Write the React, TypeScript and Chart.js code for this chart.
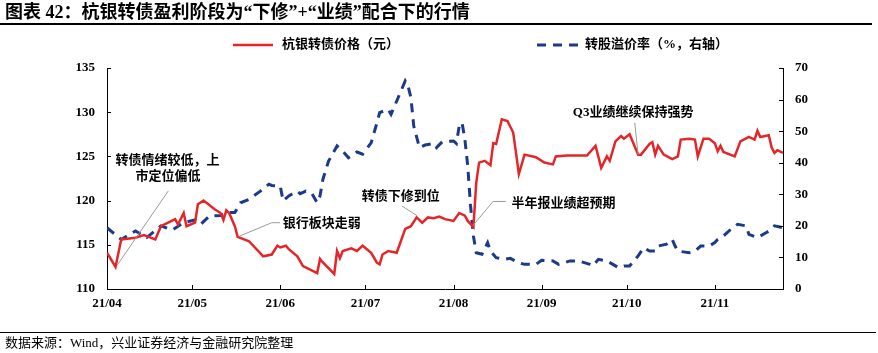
import React, { useEffect, useRef } from "react";
import { Chart, registerables } from "chart.js";

Chart.register(...registerables);

// ---------- data ----------
const monthStarts = ["04-01", "05-01", "06-01", "07-01", "08-01", "09-01", "10-01", "11-01"];
const monthLabels = ["21/04", "21/05", "21/06", "21/07", "21/08", "21/09", "21/10", "21/11"];
const rangeEnd = "11-25";

const priceDates = [
  "04-01", "04-04", "04-06", "04-11", "04-14", "04-18", "04-20", "04-25", "04-26", "04-28", "04-29",
  "05-02", "05-03", "05-05", "05-09", "05-11", "05-12", "05-13", "05-14", "05-16", "05-17", "05-21",
  "05-26", "05-29", "05-31", "06-01", "06-03", "06-04", "06-07", "06-09", "06-14", "06-15", "06-16",
  "06-20", "06-21", "06-22", "06-23", "06-26", "06-28", "06-30", "07-03", "07-05", "07-06", "07-07",
  "07-09", "07-12", "07-15", "07-17", "07-19", "07-21", "07-23", "07-25", "07-27", "07-29", "08-01",
  "08-03", "08-05", "08-06", "08-08", "08-09", "08-10", "08-12", "08-14", "08-15", "08-16", "08-18",
  "08-20", "08-22", "08-23", "08-24", "08-26", "08-30", "09-02", "09-05", "09-06", "09-10", "09-17",
  "09-20", "09-22", "09-24", "09-25", "09-27", "09-29", "09-30", "10-02", "10-05", "10-06", "10-09",
  "10-10", "10-11", "10-12", "10-14", "10-17", "10-19", "10-20", "10-23", "10-25", "10-26", "10-28",
  "10-30", "11-01", "11-02", "11-03", "11-04", "11-08", "11-10", "11-13", "11-15", "11-16", "11-17",
  "11-20", "11-21", "11-22", "11-23", "11-25",
];
const priceValues = [
  114.1, 112.5, 115.6, 115.8, 116.1, 115.6, 117.1, 117.9, 117.3, 118.6, 117.1,
  117.5, 119.6, 120.0, 119.0, 118.6, 117.8, 118.9, 118.6, 117.1, 115.9, 115.4,
  113.7, 113.9, 114.9, 114.7, 114.9, 114.5, 113.7, 112.6, 111.8, 113.4, 113.0,
  111.7, 114.3, 113.5, 114.3, 114.6, 114.3, 114.9, 114.1, 113.0, 112.8, 113.9,
  114.3, 114.1, 116.8, 117.1, 118.1, 117.5, 118.1, 118.0, 118.2, 117.9, 117.7,
  118.6, 118.3, 117.7, 117.0, 122.0, 124.3, 124.5, 124.0, 126.5, 126.4, 129.2,
  129.0, 127.7, 125.4, 123.0, 125.2, 124.9, 124.3, 124.1, 125.0, 125.1, 125.1,
  126.2, 123.7, 125.0, 124.5, 126.7, 127.3, 127.0, 127.5, 125.2, 125.2, 126.4,
  126.6, 125.2, 126.2, 125.2, 124.7, 125.0, 126.9, 127.0, 126.9, 125.0, 127.0,
  127.0, 126.5, 125.6, 126.2, 125.5, 125.0, 126.7, 127.2, 126.9, 127.9, 127.2,
  127.4, 126.0, 125.4, 125.7, 125.4,
];

const premiumDates = [
  "04-01", "04-06", "04-11", "04-15", "04-20", "04-24", "04-28", "05-02", "05-04", "05-07", "05-11",
  "05-13", "05-16", "05-18", "05-21", "05-25", "05-28", "05-29", "06-01", "06-02", "06-04", "06-07",
  "06-08", "06-10", "06-12", "06-14", "06-15", "06-16", "06-18", "06-21", "06-23", "06-25", "06-28",
  "06-30", "07-03", "07-05", "07-06", "07-09", "07-10", "07-15", "07-16", "07-17", "07-18", "07-20",
  "07-22", "07-25", "07-26", "07-28", "08-01", "08-02", "08-03", "08-04", "08-05", "08-06", "08-07",
  "08-08", "08-09", "08-11", "08-13", "08-14", "08-16", "08-19", "08-21", "08-24", "08-26", "08-30",
  "09-01", "09-05", "09-07", "09-11", "09-14", "09-18", "09-19", "09-21", "09-24", "09-28", "09-30",
  "10-02", "10-05", "10-07", "10-09", "10-11", "10-12", "10-15", "10-17", "10-18", "10-19", "10-23",
  "10-25", "10-27", "10-30", "11-01", "11-02", "11-04", "11-06", "11-09", "11-12", "11-13", "11-16",
  "11-17", "11-19", "11-21", "11-22", "11-25",
];
const premiumValues = [
  19.4, 15.7, 18.4, 16.3, 20.0, 18.7, 21.0, 21.9, 20.5, 23.1, 23.3,
  24.2, 24.2, 27.3, 28.4, 31.0, 33.2, 32.8, 32.6, 27.9, 29.5, 31.0,
  30.2, 31.0, 30.5, 27.3, 29.5, 34.7, 40.5, 45.3, 43.7, 41.6, 43.4,
  42.7, 46.3, 52.5, 55.9, 56.9, 55.3, 65.9, 64.3, 60.6, 51.6, 44.8,
  45.6, 46.1, 44.8, 46.6, 46.9, 46.1, 51.6, 52.7, 47.4, 39.0, 26.3,
  16.8, 11.5, 11.0, 14.7, 12.0, 9.9, 9.4, 9.7, 8.3, 7.8, 7.8,
  9.1, 8.9, 7.8, 8.9, 8.9, 7.8, 7.3, 9.4, 8.9, 6.8, 7.3,
  7.3, 10.5, 13.1, 12.0, 12.0, 13.6, 14.2, 15.7, 13.6, 12.0, 11.5,
  12.0, 13.6, 13.6, 14.7, 15.7, 16.8, 18.4, 20.5, 20.0, 17.3, 16.3,
  16.8, 17.8, 18.9, 20.0, 19.4,
];

const leftTicks = { min: 110, max: 135, step: 5 };
const rightTicks = { min: 0, max: 70, step: 10 };

const priceLabel = "杭银转债价格（元）";
const premiumLabel = "转股溢价率（%，右轴）";

// ---------- helpers ----------
const toDay = (s: string) => {
  const [m, d] = s.split("-").map(Number);
  return (Date.UTC(2021, m - 1, d) - Date.UTC(2021, 3, 1)) / 86400000;
};

const RED = "#E3262A";
const BLUE = "#1B3A8A";
const CJK_BOLD = 'bold 13px "Liberation Serif", "Noto Sans CJK SC", sans-serif';
const AXIS_FONT = { family: '"Liberation Serif", "Times New Roman", serif', size: 13, weight: "bold" as const };

// annotation layout in data coordinates (day offset, price)
const annotations = [
  {
    lines: ["转债情绪较低，上", "市定位偏低"],
    align: "center",
    text: [[21.3, 124.5], [21.5, 122.7]],
    path: [[3.6, 112.7], [21.6, 121.1]],
  },
  {
    lines: ["银行板块走弱"],
    align: "left",
    text: [[61.9, 117.4]],
    path: [[46.8, 116.0], [58.0, 117.5], [60.9, 117.5]],
  },
  {
    lines: ["转债下修到位"],
    align: "center",
    text: [[103.4, 120.5]],
    path: [[103.8, 119.4], [109.1, 118.3]],
  },
  {
    lines: ["半年报业绩超预期"],
    align: "left",
    text: [[142.4, 119.7]],
    path: [[128.9, 117.2], [135.9, 119.9], [140.4, 119.9]],
  },
  {
    lines: ["Q3业绩继续保持强势"],
    align: "left",
    text: [[164.0, 129.9]],
    path: [[185.8, 128.8], [187.0, 125.2]],
  },
];

const decorPlugin = {
  id: "decor",
  afterDraw(chart: any) {
    const { ctx, chartArea, scales } = chart;
    const x = scales.x;
    const yl = scales.y;
    const yr = scales.y1;
    ctx.save();
    // inward tick marks
    ctx.strokeStyle = "#000";
    ctx.lineWidth = 1;
    ctx.beginPath();
    x.ticks.forEach((t: any) => {
      const px = Math.round(x.getPixelForValue(t.value)) + 0.5;
      ctx.moveTo(px, chartArea.bottom);
      ctx.lineTo(px, chartArea.bottom - 4);
    });
    yl.ticks.forEach((t: any) => {
      const py = Math.round(yl.getPixelForValue(t.value)) + 0.5;
      ctx.moveTo(chartArea.left, py);
      ctx.lineTo(chartArea.left + 4, py);
    });
    yr.ticks.forEach((t: any) => {
      const py = Math.round(yr.getPixelForValue(t.value)) + 0.5;
      ctx.moveTo(chartArea.right, py);
      ctx.lineTo(chartArea.right - 4, py);
    });
    ctx.stroke();

    // annotations
    ctx.font = CJK_BOLD;
    ctx.textBaseline = "middle";
    annotations.forEach((a) => {
      ctx.strokeStyle = "#9a9a9a";
      ctx.lineWidth = 1;
      ctx.beginPath();
      a.path.forEach((p, i) => {
        const px = x.getPixelForValue(p[0]);
        const py = yl.getPixelForValue(p[1]);
        if (i === 0) ctx.moveTo(px, py);
        else ctx.lineTo(px, py);
      });
      ctx.stroke();
      ctx.fillStyle = "#000";
      ctx.textAlign = a.align as CanvasTextAlign;
      a.lines.forEach((line, i) => {
        ctx.fillText(line, x.getPixelForValue(a.text[i][0]), yl.getPixelForValue(a.text[i][1]));
      });
    });

    // legend
    const ly = 45;
    ctx.lineWidth = 2.5;
    ctx.strokeStyle = RED;
    ctx.setLineDash([]);
    ctx.beginPath();
    ctx.moveTo(233, ly);
    ctx.lineTo(273, ly);
    ctx.stroke();
    ctx.strokeStyle = BLUE;
    ctx.lineWidth = 3;
    ctx.setLineDash([9, 7]);
    ctx.beginPath();
    ctx.moveTo(537, ly);
    ctx.lineTo(578, ly);
    ctx.stroke();
    ctx.setLineDash([]);
    ctx.fillStyle = "#000";
    ctx.textAlign = "left";
    ctx.font = CJK_BOLD;
    ctx.fillText(priceLabel, 282, ly);
    ctx.fillText(premiumLabel, 585, ly);
    ctx.restore();
  },
};

export default function App() {
  const ref = useRef<HTMLCanvasElement | null>(null);

  useEffect(() => {
    if (!ref.current) return;
    const monthDays = monthStarts.map(toDay);
    const chart = new Chart(ref.current, {
      type: "line",
      data: {
        datasets: [
          {
            label: priceLabel,
            data: priceDates.map((d, i) => ({ x: toDay(d), y: priceValues[i] })),
            borderColor: RED,
            backgroundColor: RED,
            borderWidth: 2.5,
            pointRadius: 0,
            tension: 0,
            yAxisID: "y",
          },
          {
            label: premiumLabel,
            data: premiumDates.map((d, i) => ({ x: toDay(d), y: premiumValues[i] })),
            borderColor: BLUE,
            backgroundColor: BLUE,
            borderWidth: 3,
            borderDash: [9, 7],
            pointRadius: 0,
            tension: 0,
            yAxisID: "y1",
          },
        ],
      },
      options: {
        animation: false,
        responsive: false,
        maintainAspectRatio: false,
        layout: { padding: { top: 68, left: 0, right: 0, bottom: 0 } },
        plugins: { legend: { display: false }, tooltip: { enabled: false } },
        scales: {
          x: {
            type: "linear",
            min: 0,
            max: toDay(rangeEnd),
            afterBuildTicks: (s: any) => {
              s.ticks = monthDays.map((v) => ({ value: v }));
            },
            afterFit: (s: any) => {
              s.height = 64;
            },
            grid: { display: false, drawTicks: false },
            border: { display: true, color: "#000", width: 1 },
            ticks: {
              autoSkip: false,
              maxRotation: 0,
              padding: 7,
              color: "#000",
              font: AXIS_FONT,
              callback: (_v: any, i: number) => monthLabels[i],
            },
          },
          y: {
            position: "left",
            min: leftTicks.min,
            max: leftTicks.max,
            afterFit: (s: any) => {
              s.width = 107;
            },
            grid: { display: false, drawTicks: false },
            border: { display: true, color: "#000", width: 1 },
            ticks: { stepSize: leftTicks.step, padding: 12, color: "#000", font: AXIS_FONT },
          },
          y1: {
            position: "right",
            min: rightTicks.min,
            max: rightTicks.max,
            afterFit: (s: any) => {
              s.width = 95;
            },
            grid: { display: false, drawTicks: false },
            border: { display: true, color: "#000", width: 1 },
            ticks: { stepSize: rightTicks.step, padding: 12, color: "#000", font: AXIS_FONT },
          },
        },
      },
      plugins: [decorPlugin],
    } as any);
    return () => chart.destroy();
  }, []);

  return (
    <div style={{ position: "relative", width: 878, height: 353, background: "#fff", overflow: "hidden" }}>
      <style>{`body{margin:0;background:#fff}`}</style>
      <canvas ref={ref} width={878} height={353} style={{ position: "absolute", left: 0, top: 0 }} />
      <div
        style={{
          position: "absolute",
          left: 5,
          top: 2,
          fontFamily: '"Liberation Serif", "Noto Sans CJK SC", serif',
          fontWeight: "bold",
          fontSize: 18,
          lineHeight: "21px",
          color: "#000",
          whiteSpace: "nowrap",
        }}
      >
        图表 42：杭银转债盈利阶段为“下修”+“业绩”配合下的行情
      </div>
      <div style={{ position: "absolute", left: 0, top: 23, width: 872, height: 1.5, background: "#000" }} />
      <div style={{ position: "absolute", left: 0, top: 332, width: 876, height: 1, background: "#000" }} />
      <div
        style={{
          position: "absolute",
          left: 5,
          top: 334,
          fontFamily: '"Liberation Serif", "Noto Sans CJK SC", serif',
          fontSize: 13,
          lineHeight: "18px",
          color: "#000",
          whiteSpace: "nowrap",
        }}
      >
        数据来源：Wind，兴业证券经济与金融研究院整理
      </div>
    </div>
  );
}
